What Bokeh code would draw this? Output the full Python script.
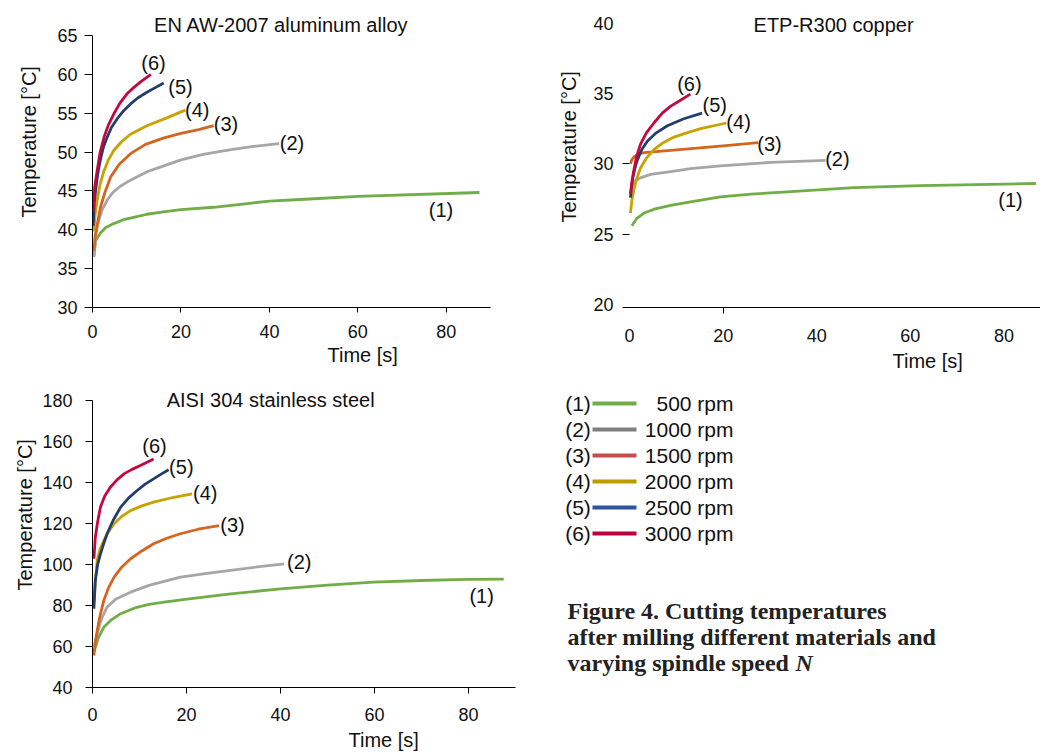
import math
from bokeh.plotting import figure
from bokeh.layouts import row, column
from bokeh.models import Label, FixedTicker, Range1d, Title
from bokeh.embed import file_html
from bokeh.resources import INLINE

# ---------------- data ----------------
series_ids = ["(1)", "(2)", "(3)", "(4)", "(5)", "(6)"]
speeds = ["500 rpm", "1000 rpm", "1500 rpm", "2000 rpm", "2500 rpm", "3000 rpm"]
curve_colors = ["#70AD47", "#A6A6A6", "#D4651F", "#C9A100", "#223E6E", "#C4083F"]
legend_colors = ["#70AD47", "#7F7F7F", "#C0504D", "#C09A00", "#2E54A0", "#C0003A"]

# EN AW-2007 aluminum alloy
al_times = [
    [0.3, 0.7, 1.8, 3.0, 4.8, 7.0, 9.3, 12.3, 16, 20, 27.4, 40, 47, 60, 87.5],
    [0.3, 0.8, 1.4, 2.2, 3.3, 4.6, 6.3, 8, 10, 12.5, 15, 20, 25, 31, 36, 42.2],
    [0.3, 0.6, 1.0, 1.8, 2.8, 4.1, 6.0, 8.6, 12, 16, 20, 24, 27.4],
    [0.3, 0.6, 1.05, 1.7, 2.6, 3.6, 4.8, 6.5, 8.6, 12.3, 16.8, 21],
    [0.15, 0.4, 0.8, 1.3, 1.9, 2.5, 3.3, 4.3, 5.6, 7.0, 8.6, 10.3, 12.3, 14.2, 16.1],
    [0.15, 0.5, 1.05, 1.7, 2.6, 3.6, 4.8, 6.2, 7.8, 9.3, 10.8, 13.2],
]
al_temps = [
    [36.6, 38.6, 39.6, 40.3, 40.8, 41.3, 41.6, 42.0, 42.3, 42.6, 42.9, 43.7, 43.9, 44.3, 44.8],
    [36.5, 39.5, 41.2, 42.6, 43.8, 44.8, 45.6, 46.2, 46.8, 47.5, 48.0, 49.0, 49.7, 50.3, 50.7, 51.1],
    [37.3, 39.2, 40.5, 42.9, 44.8, 46.8, 48.4, 49.8, 51.0, 51.8, 52.4, 52.9, 53.4],
    [39.8, 42.0, 43.8, 45.8, 47.6, 49.0, 50.2, 51.3, 52.3, 53.4, 54.4, 55.4],
    [40.5, 43.5, 45.5, 47.6, 49.3, 50.7, 51.9, 53.2, 54.3, 55.3, 56.2, 57.0, 57.7, 58.3, 58.9],
    [42.3, 45.5, 47.6, 49.9, 51.9, 53.5, 54.9, 56.3, 57.5, 58.3, 59.0, 60.0],
]
al_label_t = [78.8, 45.1, 30.2, 23.7, 19.9, 13.8]
al_label_T = [42.6, 51.2, 53.6, 55.4, 58.4, 61.5]

# ETP-R300 copper
cu_times = [
    [0.5, 1.5, 3.1, 5.5, 8.8, 13, 19.4, 26, 33.7, 47.9, 62.2, 86.8],
    [0.5, 0.9, 1.5, 2.35, 4.5, 8.8, 13, 19.4, 30.1, 41.9],
    [0.2, 0.5, 1.0, 2.0, 3.1, 8.8, 19.4, 27.5],
    [0.2, 0.5, 0.9, 1.5, 2.35, 3.6, 5.2, 7.2, 9.5, 12.2, 15.2, 20.7],
    [0.2, 0.4, 0.7, 1.1, 1.6, 2.6, 3.8, 5.7, 8.1, 11.6, 15.5],
    [0.2, 0.5, 0.9, 1.5, 2.35, 3.6, 5.2, 7.0, 8.8, 10.8, 13.0],
]
cu_temps = [
    [25.6, 26.1, 26.5, 26.8, 27.05, 27.3, 27.65, 27.85, 28.0, 28.3, 28.45, 28.6],
    [28.3, 28.7, 28.85, 29.0, 29.25, 29.45, 29.65, 29.85, 30.1, 30.25],
    [30.0, 30.3, 30.5, 30.7, 30.8, 30.95, 31.25, 31.5],
    [26.5, 27.4, 28.1, 28.9, 29.7, 30.4, 31.0, 31.5, 31.9, 32.2, 32.5, 32.9],
    [27.6, 28.3, 29.0, 29.6, 30.2, 31.0, 31.6, 32.2, 32.7, 33.2, 33.6],
    [27.85, 28.7, 29.5, 30.5, 31.4, 32.2, 32.9, 33.6, 34.1, 34.5, 34.95],
]
cu_label_t = [81.4, 44.4, 29.9, 23.3, 18.2, 12.8]
cu_label_T = [27.45, 30.35, 31.4, 33.0, 34.2, 35.7]

# AISI 304 stainless steel
ss_times = [
    [0.4, 1.2, 2.4, 4.0, 6.0, 9.0, 12, 15.2, 20.1, 29.4, 40, 50, 59.8, 70, 79.7, 87.5],
    [0.4, 1.2, 2.0, 3.1, 5.0, 8.1, 12, 18.7, 24, 29.4, 35, 40.8],
    [0.3, 0.6, 1.0, 1.6, 2.4, 3.4, 4.6, 6.2, 8.1, 10.5, 13.0, 15.8, 18.7, 22.5, 26.9],
    [0.3, 0.6, 1.0, 1.6, 2.4, 3.4, 4.6, 6.2, 8.1, 10.5, 13.0, 17.3, 21.2],
    [0.3, 0.6, 1.1, 1.7, 2.3, 3.1, 4.4, 6.0, 7.7, 9.5, 11.2, 13.0, 14.6, 16.2],
    [0.3, 0.6, 1.1, 1.7, 2.6, 3.8, 5.2, 6.7, 8.4, 10.2, 11.6, 13.0],
]
ss_temps = [
    [58, 64, 69.4, 73.0, 76.0, 78.8, 80.5, 81.6, 83.1, 85.7, 88.1, 89.9, 91.4, 92.2, 92.7, 92.9],
    [60, 68, 74.0, 79.2, 83.2, 86.5, 89.8, 93.8, 95.6, 97.1, 98.8, 100.3],
    [55.6, 62.0, 67.8, 75.0, 82.4, 88.6, 93.8, 98.7, 102.8, 106.6, 110.1, 112.8, 115.0, 117.2, 119.0],
    [82, 92, 102, 107.5, 111.7, 116.0, 119.9, 123.4, 126.3, 128.6, 130.4, 132.8, 134.4],
    [78.4, 92.2, 100.0, 105.2, 109.6, 115.0, 121.6, 128.0, 132.5, 136.1, 139.2, 141.8, 144.1, 146.2],
    [102.8, 113.3, 121.0, 128.0, 133.4, 137.7, 141.3, 144.2, 146.4, 148.3, 149.9, 151.5],
]
ss_label_t = [82.8, 44.0, 29.8, 24.0, 18.9, 13.2]
ss_label_T = [84.4, 101.0, 119.5, 135.1, 147.8, 157.6]

time_ticks = [0, 20, 40, 60, 80]
al_ticks = [30, 35, 40, 45, 50, 55, 60, 65]
cu_ticks = [20, 25, 30, 35, 40]
ss_ticks = [40, 60, 80, 100, 120, 140, 160, 180]

titles = ["EN AW-2007 aluminum alloy", "ETP-R300 copper", "AISI 304 stainless steel"]
x_title = "Time [s]"
y_title = "Temperature [°C]"
caption = ["Figure 4. Cutting temperatures",
           "after milling different materials and",
           "varying spindle speed "]
caption_italic = "N"

FONT = "Liberation Sans"
SERIF = "Liberation Serif"
TXT = "#111111"


def base_fig(w, h, xr, yr, bl, br, bt, bb):
    p = figure(width=w, height=h, x_range=Range1d(*xr), y_range=Range1d(*yr),
               output_backend="svg", toolbar_location=None,
               min_border_left=bl, min_border_right=br,
               min_border_top=bt, min_border_bottom=bb)
    p.grid.visible = False
    p.outline_line_color = None
    p.background_fill_color = "white"
    p.border_fill_color = "white"
    for ax in p.axis:
        ax.major_label_text_font = FONT
        ax.major_label_text_font_size = "18px"
        ax.major_label_text_color = TXT
        ax.axis_line_color = "black"
        ax.major_tick_line_color = "black"
        ax.minor_tick_line_color = None
        ax.major_tick_in = 0
    return p


def add_text(p, x, y, text, size="20px", angle=0.0, align="center", font=FONT,
             style="normal", color=TXT):
    p.add_layout(Label(x=x, y=y, text=text, text_font=font, text_font_size=size,
                       text_align=align, text_baseline="middle", angle=angle,
                       text_color=color, text_font_style=style))


def side_title(p, text, side, offset, standoff):
    p.add_layout(Title(text=text, align="left", offset=offset, standoff=standoff,
                       text_font=FONT, text_font_size="20px", text_font_style="normal",
                       text_color=TXT), side)


def draw_curves(p, times, temps, lt, lT):
    for i in range(len(times)):
        p.line(times[i], temps[i], line_color=curve_colors[i], line_width=2.8,
               line_join="round")
        add_text(p, lt[i], lT[i], series_ids[i], size="20px")


# ---- chart 1: aluminium (frame x 92..490, y 0..307) ----
p1 = base_fig(540, 375, (0, 90), (30, 30 + 307 / 7.77), 92, 50, 0, 68)
p1.xaxis.ticker = FixedTicker(ticks=time_ticks)
p1.yaxis.ticker = FixedTicker(ticks=al_ticks)
p1.yaxis.bounds = (30, 65)
p1.yaxis.major_tick_out = 8
p1.yaxis.major_label_standoff = 7
p1.xaxis.major_tick_out = 5
p1.xaxis.major_label_standoff = 12
draw_curves(p1, al_times, al_temps, al_label_t, al_label_T)
add_text(p1, 42.7, 66.4, titles[0])
side_title(p1, x_title, "below", 235, 3)
side_title(p1, y_title, "left", 90, 29)

# ---- chart 2: copper (frame x 622..1040, y 0..307) ----
p2 = base_fig(500, 375, (-1.5, 87.8), (20 - 3 / 14.07, 20 + 304 / 14.07), 82, 0, 0, 68)
p2.xaxis.ticker = FixedTicker(ticks=time_ticks, minor_ticks=[20])
p2.yaxis.ticker = FixedTicker(ticks=cu_ticks, minor_ticks=[25, 30])
p2.yaxis.axis_line_color = None
p2.yaxis.major_tick_line_color = None
p2.yaxis.major_tick_out = 0
p2.yaxis.minor_tick_line_color = "black"
p2.yaxis.minor_tick_in = 7
p2.yaxis.minor_tick_out = 0
p2.yaxis.major_label_standoff = 9
p2.xaxis.major_tick_line_color = None
p2.xaxis.major_tick_out = 0
p2.xaxis.minor_tick_line_color = "black"
p2.xaxis.minor_tick_out = 6
p2.xaxis.minor_tick_in = 0
p2.xaxis.major_label_standoff = 15
draw_curves(p2, cu_times, cu_temps, cu_label_t, cu_label_T)
add_text(p2, 43.6, 39.9, titles[1])
side_title(p2, x_title, "below", 270, 7)
side_title(p2, y_title, "left", 85, 22)

# ---- chart 3: stainless steel + legend area (frame x 92..1040, y 375..687) ----
p3 = base_fig(1040, 380, (0, 948 / 4.7), (40, 40 + 312 / 2.05), 92, 0, 0, 68)
p3.xaxis.ticker = FixedTicker(ticks=time_ticks)
p3.xaxis.bounds = (0, 90)
p3.yaxis.ticker = FixedTicker(ticks=ss_ticks)
p3.yaxis.bounds = (40, 180)
p3.yaxis.major_tick_out = 7
p3.yaxis.major_label_standoff = 13
p3.xaxis.major_tick_out = 6
p3.xaxis.major_label_standoff = 14
draw_curves(p3, ss_times, ss_temps, ss_label_t, ss_label_T)
add_text(p3, 37.9, 180.2, titles[2])
side_title(p3, x_title, "below", 256, 6)
side_title(p3, y_title, "left", 97, 7)


def px_t(sx):
    return (sx - 92) / 4.7


def px_T(sy):
    return 40 + (687 - sy) / 2.05


# legend (screen layout positions converted to chart-3 coordinates)
row_sy = [403 + 26 * i for i in range(len(speeds))]
n = len(speeds)
p3.segment(x0=[px_t(592)] * n, y0=[px_T(s) for s in row_sy],
           x1=[px_t(636)] * n, y1=[px_T(s) for s in row_sy],
           line_color=legend_colors, line_width=4)
for i in range(n):
    add_text(p3, px_t(577.5), px_T(row_sy[i]), series_ids[i], size="21px")
    add_text(p3, px_t(733), px_T(row_sy[i]), speeds[i], size="21px", align="right")

cap_sy = [610, 636, 662]
for i, line in enumerate(caption):
    add_text(p3, px_t(567), px_T(cap_sy[i]), line, size="24px", align="left", font=SERIF,
             style="bold", color="#222222")
add_text(p3, px_t(795), px_T(cap_sy[2]), caption_italic, size="24px", align="left",
         font=SERIF, style="bold italic", color="#222222")

layout = column(row(p1, p2, spacing=0), p3, spacing=0)
open("out.html", "w").write(file_html(layout, INLINE))
